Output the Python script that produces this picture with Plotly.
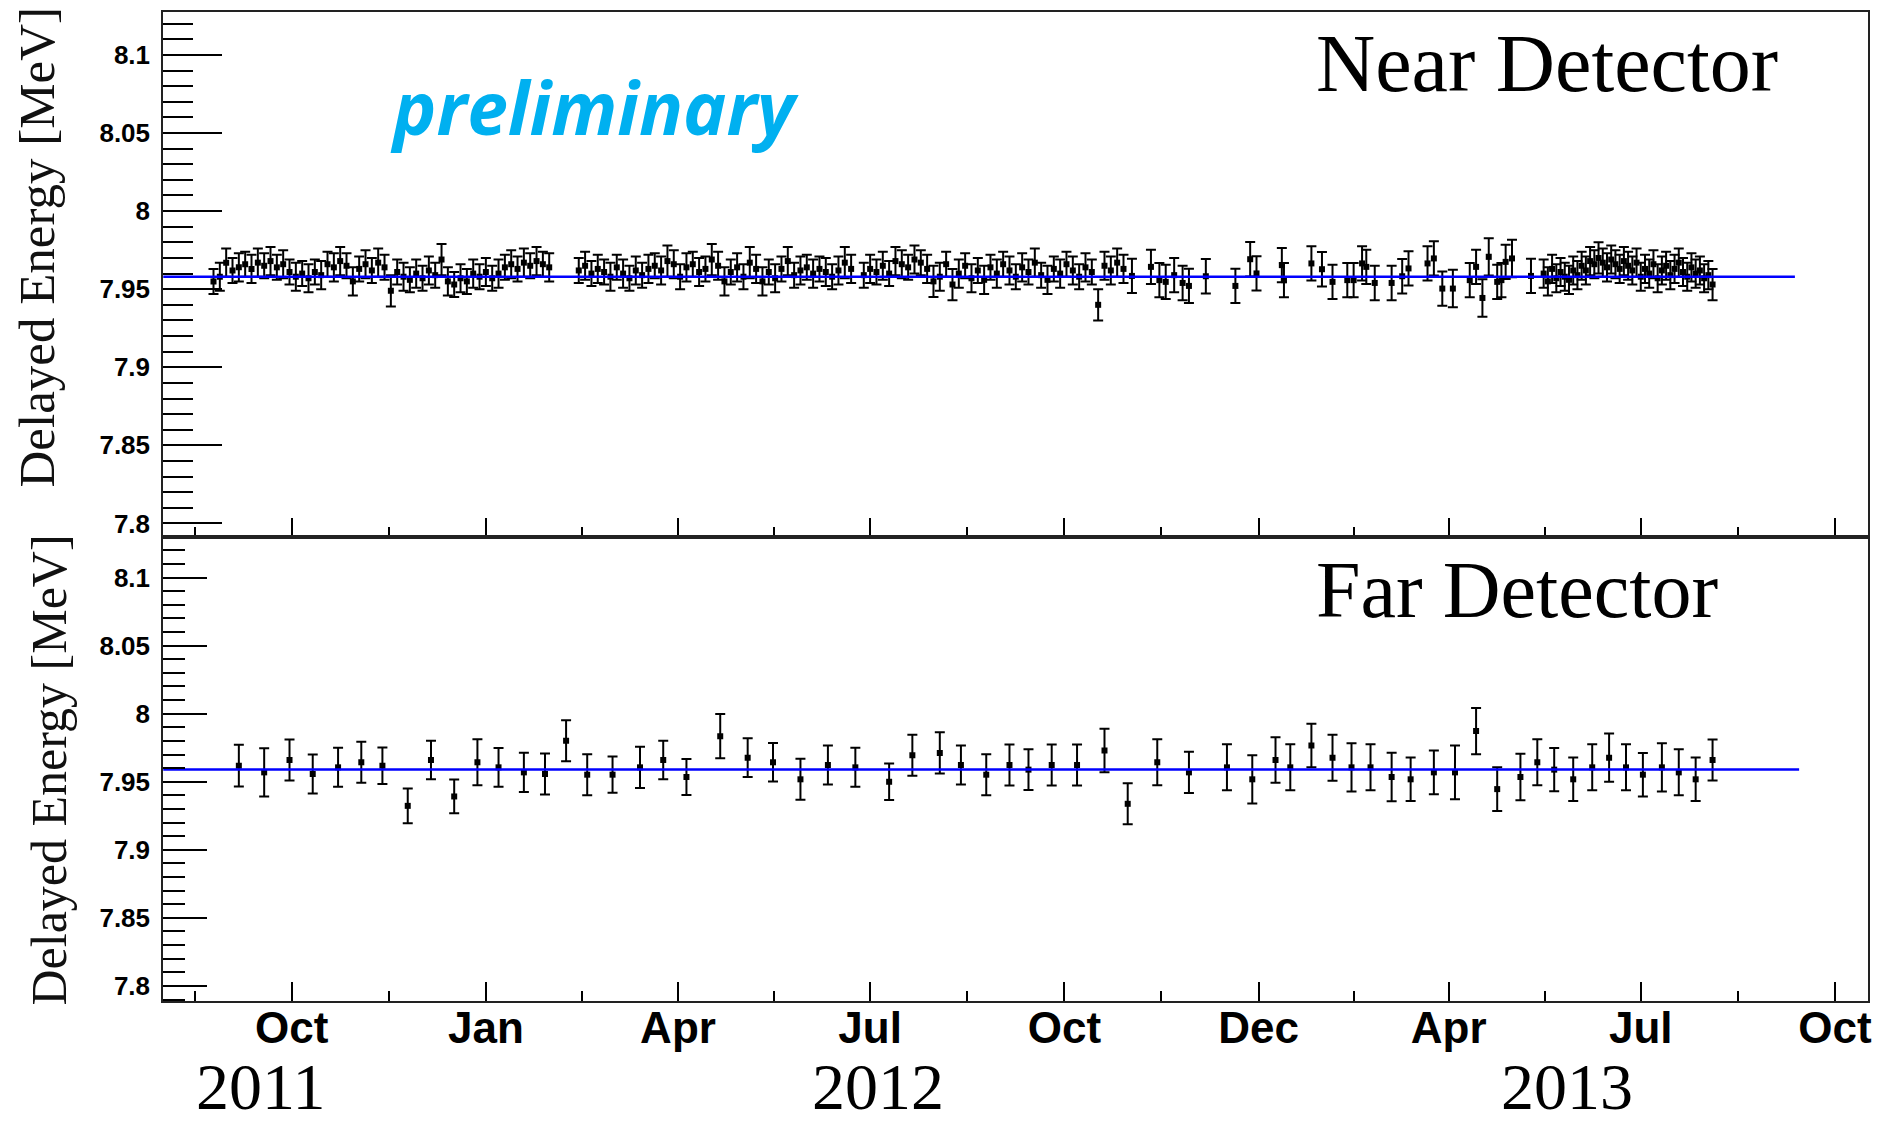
import plotly.graph_objects as go

# ---------------- data (x = days since 2011-10-01) ----------------
near_day = [
    -37, -34, -31, -28, -25, -22, -19, -16, -13, -10,
    -7, -4, -1, 2, 5, 8, 11, 14, 17, 20,
    23, 26, 29, 32, 35, 38, 41, 44, 47, 50,
    53, 56, 59, 62, 65, 68, 71, 74, 77, 80,
    83, 86, 89, 92, 95, 98, 101, 104, 107, 110,
    113, 116, 119, 122,
    136, 139, 142, 145, 148, 151, 154, 157, 160, 163,
    166, 169, 172, 175, 178, 181, 184, 187, 190, 193,
    196, 199, 202, 205, 208, 211, 214, 217, 220, 223,
    226, 229, 232, 235, 238, 241, 244, 247, 250, 253,
    256, 259, 262, 265, 271, 274, 277, 280, 283, 286,
    289, 292, 295, 298, 301, 304, 307, 310, 313, 316,
    319, 322, 325, 328, 331, 334, 337, 340, 343, 346,
    349, 352, 355, 358, 361, 364, 367, 370, 373, 376,
    379, 382,
    385, 388, 391, 394, 398, 407, 411, 414, 418, 422,
    425, 433, 447, 454, 457, 469, 470, 483, 488, 493,
    500, 503, 507, 509, 513, 521, 526, 529, 538, 541,
    545, 550, 558, 561, 564, 567, 571, 573, 575, 578,
    587,
    593, 595, 597, 599, 601, 603, 605, 607, 609, 611,
    613, 615, 617, 619, 621, 623, 625, 627, 629, 631,
    633, 635, 637, 639, 641, 643, 645, 647, 649, 651,
    653, 655, 657, 659, 661, 663, 665, 667, 669, 671,
    673,
]
near_val = [
    7.955, 7.958, 7.967, 7.962, 7.964, 7.966, 7.963, 7.967, 7.965, 7.968,
    7.964, 7.966, 7.961, 7.958, 7.960, 7.957, 7.961, 7.959, 7.966, 7.964,
    7.968, 7.965, 7.955, 7.963, 7.966, 7.962, 7.967, 7.964, 7.949, 7.961,
    7.958, 7.956, 7.960, 7.957, 7.962, 7.959, 7.969, 7.955, 7.953, 7.957,
    7.955, 7.960, 7.958, 7.961, 7.957, 7.960, 7.964, 7.966, 7.963, 7.967,
    7.965, 7.968, 7.966, 7.964,
    7.962, 7.965, 7.960, 7.963, 7.961, 7.958, 7.964, 7.960, 7.957, 7.962,
    7.959, 7.963, 7.965, 7.962, 7.968, 7.966, 7.958, 7.964, 7.966, 7.961,
    7.963, 7.969, 7.965, 7.955, 7.961, 7.964, 7.958, 7.967, 7.963, 7.955,
    7.961, 7.957, 7.963, 7.968, 7.959, 7.962, 7.964, 7.960, 7.963, 7.961,
    7.958, 7.962, 7.967, 7.963, 7.959, 7.963, 7.961, 7.965, 7.960, 7.968,
    7.966, 7.964, 7.969, 7.967, 7.963, 7.955, 7.958, 7.966, 7.953, 7.960,
    7.965, 7.957, 7.962, 7.956, 7.964, 7.960, 7.966, 7.962, 7.958, 7.964,
    7.961, 7.967, 7.959, 7.956, 7.963, 7.960, 7.966, 7.962, 7.958, 7.964,
    7.961, 7.940,
    7.965, 7.962, 7.967, 7.963, 7.9585, 7.9643, 7.9558, 7.9547, 7.959, 7.954,
    7.9521, 7.9583, 7.9521, 7.9692, 7.9601, 7.9654, 7.9558, 7.9665, 7.9628, 7.9547,
    7.9558, 7.9558, 7.9665, 7.9643, 7.954, 7.954, 7.9583, 7.9633, 7.9665, 7.9697,
    7.9504, 7.9504, 7.9558, 7.9643, 7.9444, 7.9707, 7.9547, 7.9558, 7.9675, 7.9697,
    7.9585,
    7.960, 7.955, 7.963, 7.957, 7.961, 7.958, 7.956, 7.962, 7.959, 7.965,
    7.962, 7.968, 7.966, 7.970, 7.967, 7.964, 7.969, 7.966, 7.963, 7.968,
    7.965, 7.962, 7.967, 7.958, 7.963, 7.960, 7.966, 7.957, 7.962, 7.965,
    7.959, 7.963, 7.967, 7.961, 7.958, 7.964, 7.960, 7.962, 7.957, 7.959,
    7.953,
]
near_err = [
    0.008, 0.009, 0.009, 0.008, 0.009, 0.008, 0.009, 0.009, 0.008, 0.009,
    0.008, 0.009, 0.008, 0.009, 0.008, 0.009, 0.008, 0.009, 0.008, 0.009,
    0.009, 0.008, 0.009, 0.008, 0.009, 0.008, 0.009, 0.008, 0.010, 0.008,
    0.009, 0.008, 0.009, 0.008, 0.009, 0.008, 0.010, 0.009, 0.008, 0.009,
    0.008, 0.009, 0.008, 0.009, 0.008, 0.009, 0.008, 0.009, 0.008, 0.009,
    0.008, 0.009, 0.008, 0.009,
    0.008, 0.009, 0.008, 0.009, 0.008, 0.009, 0.008, 0.009, 0.008, 0.009,
    0.008, 0.009, 0.008, 0.009, 0.010, 0.009, 0.008, 0.009, 0.008, 0.009,
    0.008, 0.010, 0.009, 0.009, 0.008, 0.009, 0.008, 0.010, 0.009, 0.009,
    0.008, 0.009, 0.008, 0.009, 0.008, 0.009, 0.008, 0.009, 0.008, 0.009,
    0.008, 0.009, 0.010, 0.009, 0.008, 0.009, 0.008, 0.009, 0.008, 0.009,
    0.009, 0.008, 0.009, 0.008, 0.009, 0.010, 0.009, 0.008, 0.010, 0.009,
    0.008, 0.009, 0.008, 0.009, 0.008, 0.009, 0.008, 0.009, 0.008, 0.009,
    0.008, 0.009, 0.008, 0.009, 0.008, 0.009, 0.008, 0.009, 0.008, 0.009,
    0.008, 0.010,
    0.009, 0.009, 0.009, 0.009, 0.011, 0.011, 0.011, 0.011, 0.011, 0.011,
    0.011, 0.011, 0.011, 0.011, 0.011, 0.011, 0.011, 0.011, 0.011, 0.011,
    0.011, 0.011, 0.011, 0.011, 0.011, 0.011, 0.011, 0.011, 0.011, 0.011,
    0.011, 0.012, 0.011, 0.011, 0.012, 0.012, 0.011, 0.011, 0.011, 0.012,
    0.011,
    0.009, 0.009, 0.009, 0.009, 0.009, 0.009, 0.009, 0.009, 0.009, 0.009,
    0.009, 0.009, 0.009, 0.010, 0.009, 0.009, 0.009, 0.009, 0.009, 0.009,
    0.009, 0.009, 0.009, 0.009, 0.009, 0.009, 0.009, 0.009, 0.009, 0.009,
    0.009, 0.009, 0.009, 0.009, 0.009, 0.009, 0.009, 0.009, 0.009, 0.009,
    0.010,
]

far_day = [
    -25, -13, -1, 10, 22, 33, 43, 55, 66, 77,
    88, 98, 110, 120, 130, 140, 152, 165, 176, 187,
    203, 216, 228, 241, 254, 267, 283, 294, 307, 317,
    329, 340, 349, 360, 372, 385, 396, 410, 425, 443,
    455, 466, 473, 483, 493, 502, 511, 521, 530, 541,
    551, 561, 571, 582, 590, 598, 607, 616, 624, 632,
    640, 649, 657, 665, 673,
]
far_val = [
    7.9618, 7.9569, 7.9660, 7.9557, 7.9606, 7.9643, 7.9618, 7.9323, 7.9660, 7.9392,
    7.9643, 7.9606, 7.9569, 7.9557, 7.9801, 7.9552, 7.9552, 7.9606, 7.9660, 7.9535,
    7.9835, 7.9677, 7.9643, 7.9518, 7.9623, 7.9606, 7.9500, 7.9695, 7.9712, 7.9623,
    7.9552, 7.9623, 7.9589, 7.9623, 7.9623, 7.9729, 7.9338, 7.9643, 7.9569, 7.9606,
    7.9518, 7.9660, 7.9606, 7.9766, 7.9677, 7.9606, 7.9606, 7.9535, 7.9518, 7.9569,
    7.9569, 7.9872, 7.9446, 7.9535, 7.9643, 7.9589, 7.9518, 7.9606, 7.9677, 7.9606,
    7.9552, 7.9606, 7.9569, 7.9518, 7.9660,
]
far_err = [
    0.0153, 0.0178, 0.0150, 0.0143, 0.0143, 0.0150, 0.0134, 0.0127, 0.0142, 0.0124,
    0.0169, 0.0142, 0.0144, 0.0151, 0.0150, 0.0151, 0.0133, 0.0151, 0.0142, 0.0133,
    0.0163, 0.0142, 0.0142, 0.0151, 0.0143, 0.0143, 0.0134, 0.0150, 0.0151, 0.0143,
    0.0151, 0.0151, 0.0150, 0.0151, 0.0151, 0.0160, 0.0151, 0.0169, 0.0151, 0.0169,
    0.0177, 0.0167, 0.0169, 0.0160, 0.0169, 0.0177, 0.0169, 0.0178, 0.0160, 0.0160,
    0.0197, 0.0169, 0.0161, 0.0170, 0.0169, 0.0159, 0.0160, 0.0169, 0.0177, 0.0169,
    0.0160, 0.0177, 0.0169, 0.0160, 0.0150,
]

near_fit_x = [-61, 712]
near_fit_y = [7.958, 7.958]
far_fit_x = [-61, 714]
far_fit_y = [7.959, 7.959]

x_tick_days = [0, 92, 183, 274, 366, 458, 548, 639, 731]
x_tick_text = ["Oct", "Jan", "Apr", "Jul", "Oct", "Dec", "Apr", "Jul", "Oct"]
y_tick_vals = [7.8, 7.85, 7.9, 7.95, 8.0, 8.05, 8.1]
y_tick_text = ["7.8", "7.85", "7.9", "7.95", "8", "8.05", "8.1"]
year_labels = ["2011", "2012", "2013"]

# ---------------- figure ----------------
W, H = 1886, 1126
def px(x):
    return x / W
def py(y):
    return 1 - y / H

x_minor = [x_tick_days[0] - (x_tick_days[1] - x_tick_days[0]) / 2] + [
    (a + b) / 2 for a, b in zip(x_tick_days[:-1], x_tick_days[1:])]

fig = go.Figure()

def add_panel(xs, ys, es, fx, fy, xa, ya):
    fig.add_trace(go.Scatter(
        x=xs, y=ys, mode="markers", xaxis=xa, yaxis=ya,
        marker=dict(symbol="square", size=6, color="black"),
        error_y=dict(type="data", array=es, color="black", thickness=2, width=5),
        showlegend=False, hoverinfo="skip"))
    fig.add_trace(go.Scatter(
        x=fx, y=fy, mode="lines", xaxis=xa, yaxis=ya,
        line=dict(color="#0000ff", width=2.5), showlegend=False, hoverinfo="skip"))

add_panel(near_day, near_val, near_err, near_fit_x, near_fit_y, "x", "y")
add_panel(far_day, far_val, far_err, far_fit_x, far_fit_y, "x2", "y2")

xdom = [px(163.6), px(1871.5)]
xrange = [-60.8, 746.4]
frame = dict(showline=True, mirror=True, linecolor="#222222", linewidth=2,
             showgrid=False, zeroline=False)

xcommon = dict(frame, domain=xdom, range=xrange, tickmode="array",
               tickvals=x_tick_days, ticktext=x_tick_text,
               ticks="inside", ticklen=19, tickwidth=2, tickcolor="black",
               minor=dict(tickmode="array", tickvals=x_minor, ticks="inside",
                          ticklen=10, tickwidth=2, tickcolor="black"))

ytickfont = dict(family="Liberation Sans, Arial", size=26, color="black", weight="bold")

fig.update_layout(
    width=W, height=H, margin=dict(l=0, r=0, t=0, b=0),
    paper_bgcolor="white", plot_bgcolor="white",
    xaxis=dict(xcommon, anchor="y", showticklabels=False),
    xaxis2=dict(xcommon, anchor="y2", showticklabels=True, ticklabelstandoff=-13,
                tickfont=dict(family="Liberation Sans, Arial", size=44,
                              color="black", weight="bold")),
    yaxis=dict(frame, domain=[py(537.7), py(12)], range=[7.7915, 8.1275],
               anchor="x", tickmode="array", tickvals=y_tick_vals,
               ticktext=y_tick_text, ticks="inside", ticklen=59, tickwidth=2,
               tickcolor="black", tickfont=ytickfont, ticklabelstandoff=6,
               minor=dict(tickmode="linear", tick0=7.8, dtick=0.01,
                          ticks="inside", ticklen=30, tickwidth=2,
                          tickcolor="black")),
    yaxis2=dict(frame, domain=[py(1002.7), py(537.7)], range=[7.789, 8.13],
                anchor="x2", tickmode="array", tickvals=y_tick_vals,
                ticktext=y_tick_text, ticks="inside", ticklen=44, tickwidth=2,
                tickcolor="black", tickfont=ytickfont, ticklabelstandoff=6,
                minor=dict(tickmode="linear", tick0=7.8, dtick=0.01,
                           ticks="inside", ticklen=22, tickwidth=2,
                           tickcolor="black")),
)

serif = "Liberation Serif, Times New Roman, serif"
ann = [
    dict(text="Near Detector", x=px(1317), y=py(64), xanchor="left", yanchor="middle",
         font=dict(family=serif, size=82, color="black")),
    dict(text="Far Detector", x=px(1317), y=py(591), xanchor="left", yanchor="middle",
         font=dict(family=serif, size=80, color="black")),
    dict(text="preliminary", x=px(389), y=py(107), xanchor="left", yanchor="middle",
         font=dict(family="Open Sans, Lato, sans-serif", size=73, color="#00b0f0",
                   weight="bold", style="italic")),
    dict(text="Delayed Energy [MeV]", x=px(37), y=py(247), xanchor="center",
         yanchor="middle", textangle=-90,
         font=dict(family=serif, size=51, color="#111111")),
    dict(text="Delayed Energy [MeV]", x=px(49), y=py(771), xanchor="center",
         yanchor="middle", textangle=-90,
         font=dict(family=serif, size=50, color="#111111")),
]
for lab, xc in zip(year_labels, [262, 880, 1570]):
    ann.append(dict(text=lab, x=px(xc), y=0, xanchor="center", yanchor="bottom",
                    borderpad=0,
                    font=dict(family=serif, size=66, color="black")))
for a in ann:
    a.update(xref="paper", yref="paper", showarrow=False)
fig.update_layout(annotations=ann)

fig.write_html("out.html")
